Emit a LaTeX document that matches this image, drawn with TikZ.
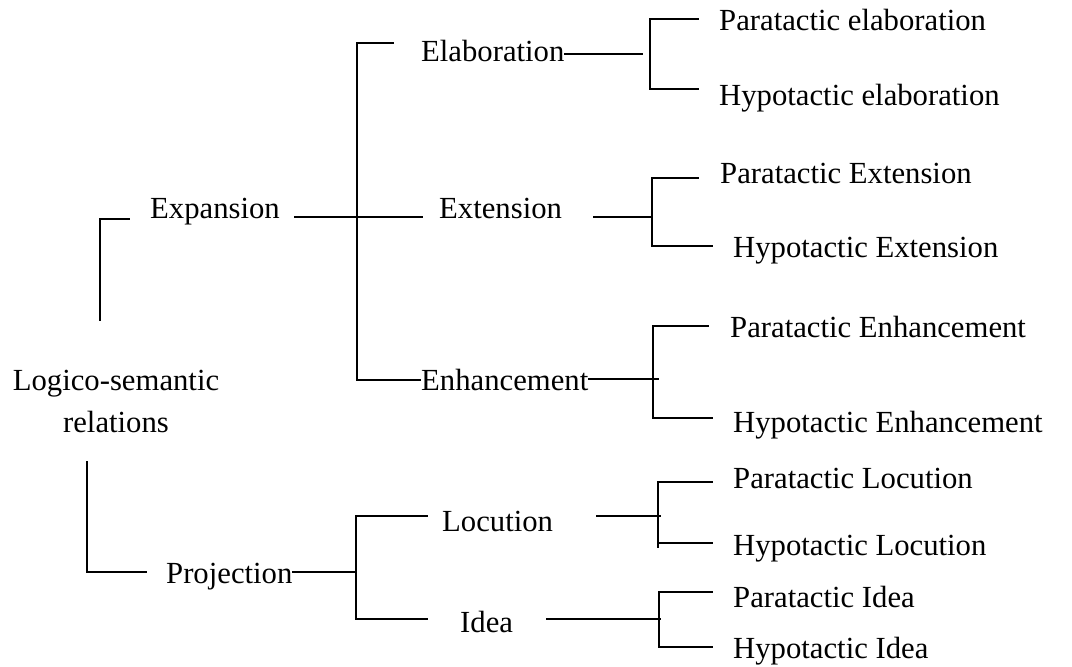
\documentclass[tikz,border=0pt]{standalone}
\usepackage{fontspec}
\setmainfont{Liberation Serif}
\begin{document}
\begin{tikzpicture}[x=1pt,y=-1pt,
  lbl/.style={anchor=base west,inner sep=0pt,font=\fontsize{30.7}{42}\selectfont},
  ln/.style={line width=1.8pt,line cap=rect}]
\useasboundingbox (0,0) rectangle (1072,667);
% texts
\node[lbl,anchor=base,align=center] (root) at (116,432) {Logico-semantic\\relations};
\node[lbl] (exp) at (150,218) {Expansion};
\node[lbl] (proj) at (166,583) {Projection};
\node[lbl] (elab) at (421,61) {Elaboration};
\node[lbl] (ext) at (439,218) {Extension};
\node[lbl] (enh) at (421,390) {Enhancement};
\node[lbl] (loc) at (442,531) {Locution};
\node[lbl] (idea) at (460,632) {Idea};
\node[lbl] (pel) at (719,30) {Paratactic elaboration};
\node[lbl] (hel) at (719,105) {Hypotactic elaboration};
\node[lbl] (pex) at (720,183) {Paratactic Extension};
\node[lbl] (hex) at (733,257) {Hypotactic Extension};
\node[lbl] (pen) at (730,337) {Paratactic Enhancement};
\node[lbl] (hen) at (733,432) {Hypotactic Enhancement};
\node[lbl] (plo) at (733,488) {Paratactic Locution};
\node[lbl] (hlo) at (733,555) {Hypotactic Locution};
\node[lbl] (pid) at (733,607) {Paratactic Idea};
\node[lbl] (hid) at (733,658) {Hypotactic Idea};
% root brackets
\draw[ln] (129,219) -- (100,219) -- (100,320);
\draw[ln] (87,462) -- (87,572) -- (146,572);
% expansion
\draw[ln] (295,217) -- (422,217);
\draw[ln] (393,43) -- (357,43) -- (357,380) -- (420,380);
% elaboration
\draw[ln] (elab.east |- 0,54) -- (642,54);
\draw[ln] (698,19) -- (650,19) -- (650,89) -- (698,89);
% extension
\draw[ln] (594,217) -- (652,217);
\draw[ln] (698,178) -- (652,178) -- (652,246) -- (712,246);
% enhancement
\draw[ln] (enh.east |- 0,379) -- (658,379);
\draw[ln] (708,326) -- (653,326) -- (653,418) -- (712,418);
% projection
\draw[ln] (proj.east |- 0,572) -- (356,572);
\draw[ln] (427,516) -- (356,516) -- (356,619) -- (427,619);
% locution
\draw[ln] (597,516) -- (660,516);
\draw[ln] (712,482) -- (658,482) -- (658,547);
\draw[ln] (658,543) -- (712,543);
% idea
\draw[ln] (547,619) -- (660,619);
\draw[ln] (712,592) -- (659,592) -- (659,647) -- (712,647);
\end{tikzpicture}
\end{document}
